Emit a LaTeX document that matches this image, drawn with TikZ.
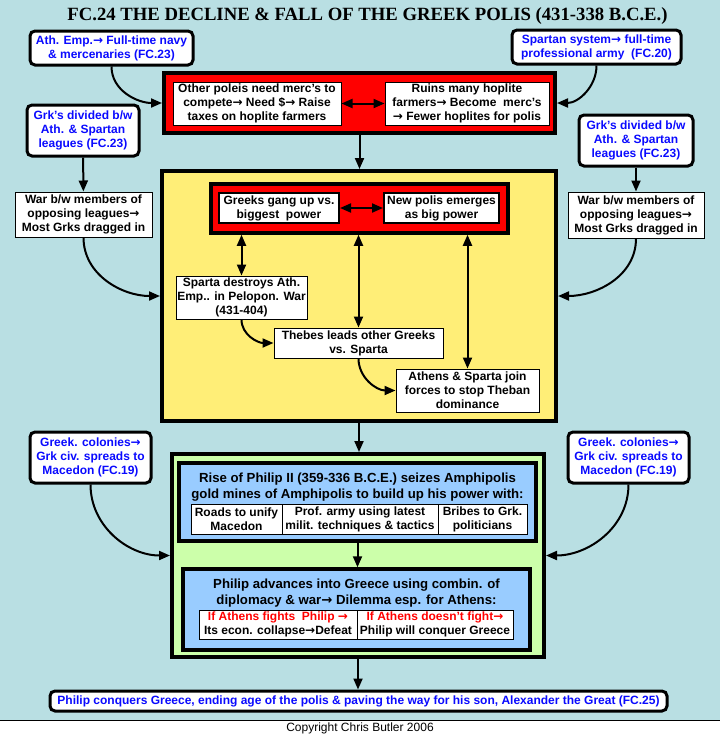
\documentclass[tikz,border=0pt]{standalone}
\usepackage{fontspec}
\setmainfont{Liberation Sans}
\newfontfamily\titlefont{Liberation Serif}
\newfontfamily\arrowfont{DejaVu Sans}
\usetikzlibrary{arrows.meta}
\definecolor{fcbg}{RGB}{185,223,227}
\definecolor{fcyellow}{RGB}{255,238,119}
\definecolor{fcgreen}{RGB}{204,255,170}
\definecolor{fcblue}{RGB}{153,204,255}
\definecolor{fclink}{RGB}{10,10,255}
\newcommand{\ra}{{\arrowfont\bfseries →}}

\begin{document}
\begin{tikzpicture}[x=1pt, y=1pt, >={Triangle[length=11pt,width=9pt]},
  font=\bfseries\fontsize{12}{14}\selectfont,
  linkbox/.style={draw, rounded corners=5pt, line width=3pt, fill=white, text=fclink, align=center, inner sep=0pt},
  textbox/.style={draw, line width=1pt, fill=white, align=center, inner sep=0pt},
  frame/.style={draw, line width=4pt, inner sep=0pt},
  header/.style={align=center, font=\bfseries\fontsize{13.2}{16}\selectfont},
  conn/.style={->, line width=2pt},
  both/.style={<->, line width=2pt}]
  \useasboundingbox (0,0) rectangle (720,-737);
  % Background and copyright strip.
  \fill[fcbg] (0,0) rectangle (720,-720);
  \fill[white] (0,-720) rectangle (720,-737);
  \draw[line width=1pt] (0,-720) -- (720,-720);
  \node (title) at (367.5,-16) {\titlefont\bfseries\fontsize{18.7}{22}\selectfont FC.24 THE DECLINE \& FALL OF THE GREEK POLIS (431-338 B.C.E.)};
  \node (copy) at (360,-728.5) {\mdseries\fontsize{12}{14}\selectfont Copyright Chris Butler 2006};
  % Links to other charts.
  \node[linkbox, minimum width=163pt, minimum height=34pt] (athemp) at (111.5,-48) {Ath. Emp.\ra{} Full-time navy\\\& mercenaries (FC.23)};
  \node[linkbox, minimum width=169pt, minimum height=34pt] (spartan) at (596.5,-47) {Spartan system\ra{} full-time\\professional army~ (FC.20)};
  \node[linkbox, minimum width=112pt, minimum height=51pt] (grkl) at (83,-130.5) {Grk's divided b/w\\Ath. \& Spartan\\leagues (FC.23)};
  \node[linkbox, minimum width=114pt, minimum height=51pt] (grkr) at (636,-140.5) {Grk's divided b/w\\Ath. \& Spartan\\leagues (FC.23)};
  \node[linkbox, minimum width=121pt, minimum height=51pt] (colonl) at (90.5,-457.5) {Greek. colonies\ra\\Grk civ. spreads to\\Macedon (FC.19)};
  \node[linkbox, minimum width=121pt, minimum height=51pt] (colonr) at (628.5,-457.5) {Greek. colonies\ra\\Grk civ. spreads to\\Macedon (FC.19)};
  \node[linkbox, minimum width=617pt, minimum height=20pt] (final) at (358.5,-701) {Philip conquers Greece, ending age of the polis \& paving the way for his son, Alexander the Great (FC.25)};
  % Wars between the leagues.
  \node[textbox, minimum width=137pt, minimum height=45pt] (warl) at (83.5,-214.5) {War b/w members of\\opposing leagues\ra\\Most Grks dragged in};
  \node[textbox, minimum width=136pt, minimum height=46pt] (warr) at (636,-215) {War b/w members of\\opposing leagues\ra\\Most Grks dragged in};
  % Top red box.
  \node[frame, fill=red, minimum width=391pt, minimum height=60pt] (redtop) at (359.5,-103) {};
  \node[textbox, minimum width=168pt, minimum height=43pt] (poleis) at (257,-103.5) {Other poleis need merc's to\\compete\ra{} Need \$\ra{} Raise\\taxes on hoplite farmers};
  \node[textbox, minimum width=164pt, minimum height=43pt] (ruins) at (467,-103.5) {Ruins many hoplite\\farmers\ra{} Become~ merc's\\\ra{} Fewer hoplites for polis};
  % Yellow box with the wars between poleis.
  \node[frame, fill=fcyellow, minimum width=394pt, minimum height=250pt] (yellow) at (359,-296) {};
  \node[frame, line width=3.5pt, fill=red, minimum width=297pt, minimum height=49pt] (redin) at (359.5,-208.5) {};
  \node[textbox, line width=2pt, minimum width=120pt, minimum height=30pt] (gang) at (279,-208) {Greeks gang up vs.\\biggest~ power};
  \node[textbox, line width=2pt, minimum width=115pt, minimum height=30pt] (newpolis) at (441.5,-208) {New polis emerges\\as big power};
  \node[textbox, minimum width=131pt, minimum height=43pt] (sparta) at (241.5,-297.5) {Sparta destroys Ath.\\Emp.. in Pelopon. War\\(431-404)};
  \node[textbox, minimum width=169pt, minimum height=30pt] (thebes) at (358.5,-343) {Thebes leads other Greeks\\vs. Sparta};
  \node[textbox, minimum width=143pt, minimum height=43pt] (athens) at (467.5,-390.5) {Athens \& Sparta join\\forces to stop Theban\\dominance};
  % Green box with Philip II.
  \node[frame, fill=fcgreen, minimum width=372pt, minimum height=203pt] (green) at (358,-555.5) {};
  \node[frame, line width=3.5pt, fill=fcblue, minimum width=357pt, minimum height=78pt] (rise) at (357.5,-502) {};
  \node[header] (risetext) at (357.5,-487.5) {Rise of Philip II (359-336 B.C.E.) seizes Amphipolis\\gold mines of Amphipolis to build up his power with:};
  \node[textbox, minimum width=91pt, minimum height=30pt] (roads) at (236.5,-519) {Roads to unify\\Macedon};
  \node[textbox, minimum width=156pt, minimum height=30pt] (army) at (360,-519) {Prof. army using latest\\milit. techniques \& tactics};
  \node[textbox, minimum width=89pt, minimum height=30pt] (bribes) at (482.5,-519) {Bribes to Grk.\\politicians};
  \node[frame, line width=3.5pt, fill=fcblue, minimum width=347pt, minimum height=81pt] (advance) at (356.5,-609.5) {};
  \node[header] (advtext) at (356.5,-593.5) {Philip advances into Greece using combin. of\\diplomacy \& war\ra{} Dilemma esp. for Athens:};
  \node[textbox, minimum width=158pt, minimum height=29pt] (fights) at (278,-624.5) {{\color{red}If Athens fights~ Philip \ra}\\Its econ. collapse\ra Defeat};
  \node[textbox, minimum width=156pt, minimum height=29pt] (nofight) at (435,-624.5) {{\color{red}If Athens doesn't fight\ra}\\Philip will conquer Greece};
  % Arrows.
  \draw[conn] (athemp.south) to[out=-90, in=180] (redtop.west);
  \draw[conn] (spartan.south) to[out=-90, in=0] (redtop.east);
  \draw[both] (poleis) -- (ruins);
  \draw[conn] (redtop.south) -- (redtop.south |- yellow.north);
  \draw[conn] (grkl) -- (warl);
  \draw[conn] (grkr) -- (warr);
  \draw[conn] (warl.south) to[out=-90, in=180] (yellow.west);
  \draw[conn] (warr.south) to[out=-90, in=0] (yellow.east);
  \draw[both] (gang) -- (newpolis);
  \draw[both] (sparta.north |- redin.south) -- (sparta.north);
  \draw[both] (thebes.north |- redin.south) -- (thebes.north);
  \draw[both] (athens.north |- redin.south) -- (athens.north);
  \draw[conn] (sparta.south) to[out=-90, in=180] (thebes.west);
  \draw[conn] (thebes.south) to[out=-90, in=180] (athens.west);
  \draw[conn] (yellow.south) -- (yellow.south |- green.north);
  \draw[conn] (colonl.south) to[out=-90, in=180] (green.west);
  \draw[conn] (colonr.south) to[out=-90, in=0] (green.east);
  \draw[conn] (rise.south) -- (rise.south |- advance.north);
  \draw[conn] (green.south) -- (green.south |- final.north);
\end{tikzpicture}
\end{document}
